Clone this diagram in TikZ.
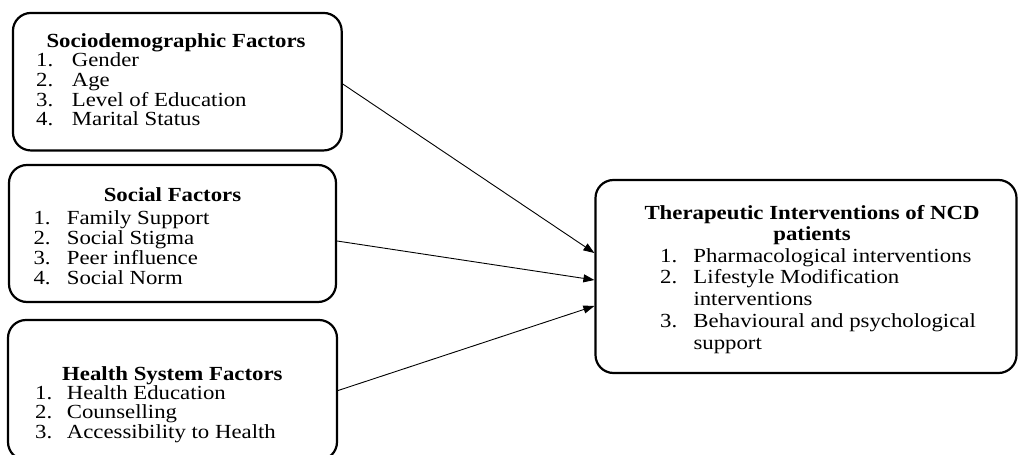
\documentclass[tikz,border=0pt]{standalone}
\usepackage{fontspec}
\setmainfont{Liberation Serif}[FakeStretch=1.14]
\usetikzlibrary{arrows.meta}
\tikzset{
  box/.style={draw=black, line width=2.2pt, rounded corners=18pt, inner sep=0pt},
  ttl/.style={anchor=base, inner sep=0pt, font=\fontsize{20}{21.7}\selectfont\bfseries},
  lstA/.style={anchor=base west, inner sep=0pt, font=\fontsize{20}{19.7}\selectfont},
  lstB/.style={anchor=base west, inner sep=0pt, font=\fontsize{20}{20.3}\selectfont},
  lstC/.style={anchor=base west, inner sep=0pt, font=\fontsize{20}{21.8}\selectfont},
  arr/.style={draw=black, line width=0.9pt, -{Triangle[length=11pt,width=8pt]}}
}
\begin{document}
\begin{tikzpicture}[x=1pt,y=-1pt]
\useasboundingbox (0,0) rectangle (1018,455);
\clip (0,0) rectangle (1018,455);
% boxes
\node[box, minimum width=328.7pt, minimum height=137.5pt] (b1) at (177.3,81.7) {};
\node[box, minimum width=327pt, minimum height=137pt] (b2) at (172.5,233.5) {};
\node[box, minimum width=329pt, minimum height=140pt] (b3) at (172.5,390) {};
\node[box, minimum width=421pt, minimum height=193pt] (t) at (806,276.5) {};
% box 1 text
\node[ttl] (b1t) at (176,47) {Sociodemographic Factors};
\node[lstA] (b1l) at (36,66.5) {\begin{tabular}[t]{@{}p{35.7pt}@{}l@{}}
1. & Gender\\ 2. & Age\\ 3. & Level of Education\\ 4. & Marital Status\end{tabular}};
% box 2 text
\node[ttl] (b2t) at (172.5,201.5) {Social Factors};
\node[lstB] (b2l) at (33.3,224) {\begin{tabular}[t]{@{}p{33.4pt}@{}l@{}}
1. & Family Support\\ 2. & Social Stigma\\ 3. & Peer influence\\ 4. & Social Norm\end{tabular}};
% box 3 text
\node[ttl] (b3t) at (172.4,380) {Health System Factors};
\node[lstA] (b3l) at (35,399) {\begin{tabular}[t]{@{}p{31.7pt}@{}l@{}}
1. & Health Education\\ 2. & Counselling\\ 3. & Accessibility to Health\end{tabular}};
% target text
\node[ttl] (tt) at (812,219) {\begin{tabular}[t]{@{}c@{}}Therapeutic Interventions of NCD\\ patients\end{tabular}};
\node[lstC] (tl) at (660,262) {\begin{tabular}[t]{@{}p{33.3pt}@{}l@{}}
1. & Pharmacological interventions\\ 2. & Lifestyle Modification\\ & interventions\\ 3. & Behavioural and psychological\\ & support\end{tabular}};
% arrows
\draw[arr] ([yshift=-2.3pt]b1.east) -- ([yshift=23.5pt]t.west);
\draw[arr] ([yshift=-7.5pt]b2.east) -- ([yshift=-3.5pt]t.west);
\draw[arr] ([yshift=-0.5pt]b3.east) -- ([yshift=-29.5pt]t.west);
\end{tikzpicture}
\end{document}
